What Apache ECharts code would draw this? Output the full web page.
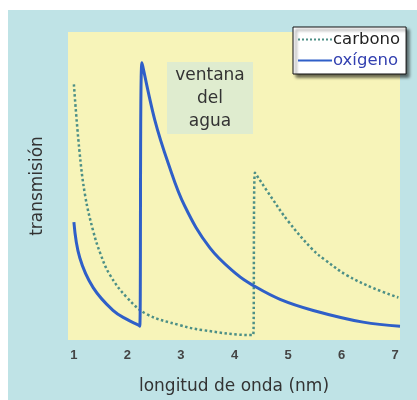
<!DOCTYPE html>
<html><head><meta charset="utf-8">
<script src="https://cdn.jsdelivr.net/npm/echarts@6/dist/echarts.min.js"></script>
<style>html,body{margin:0;padding:0;background:#fff}#c{width:417px;height:400px}</style>
</head><body><div id="c"></div>
<script>
const xTicks = [1, 2, 3, 4, 5, 6, 7];
const carbonoX = [1.0, 1.1, 1.21, 1.36, 1.5, 1.67, 1.99, 2.36, 2.98, 3.41, 4.33, 4.35, 4.38, 4.70, 5.0, 5.45, 5.69, 6.10, 6.6, 7.06];
const carbonoY = [83.0, 62.0, 46.9, 35.4, 27.8, 21.2, 13.8, 8.4, 4.8, 3.2, 1.6, 1.6, 54.3, 46.0, 38.6, 29.5, 26.0, 21.0, 16.8, 13.8];
const oxigenoX = [1.0, 1.11, 1.36, 1.73, 2.0, 2.21, 2.23, 2.27, 2.51, 2.76, 3.07, 3.54, 4.05, 4.35, 4.85, 5.47, 6.40, 7.09];
const oxigenoY = [38.3, 26.7, 17.0, 9.6, 6.6, 4.8, 4.5, 90.0, 71.5, 57.5, 43.5, 29.9, 21.2, 17.7, 13.2, 9.6, 5.8, 4.5];
const seriesNames = ['carbono', 'oxígeno'];
const annotation = 'ventana\ndel\nagua';

const zip = (xs, ys) => xs.map((x, i) => [x, ys[i]]);
const font = 'DejaVu Sans';
const chart = echarts.init(document.getElementById('c'));
chart.setOption({
  backgroundColor: '#ffffff',
  animation: false,
  graphic: [
    { type: 'rect', z: -10, shape: { x: 8, y: 10, width: 409, height: 390 }, style: { fill: '#bfe3e6' } },
    { type: 'rect', z: 9, shape: { x: 167, y: 62, width: 86, height: 72 }, style: { fill: '#dfeccf' } },
    { type: 'text', z: 10, x: 210, y: 64,
      style: { text: annotation, font: '17px "DejaVu Sans"', fill: '#333', align: 'center', verticalAlign: 'top',
        lineHeight: 23 } }
  ],
  grid: { left: 68, top: 32, right: 17, bottom: 57, show: true, backgroundColor: '#f7f4b9', borderWidth: 0 },
  legend: {
    left: 293, top: 27, orient: 'vertical', itemWidth: 34, itemHeight: 10, itemGap: 4,
    padding: [4, 6, 5, 4],
    backgroundColor: '#ffffff', borderColor: '#111', borderWidth: 1,
    shadowColor: 'rgba(0,0,0,0.6)', shadowBlur: 3, shadowOffsetX: 3, shadowOffsetY: 3,
    itemStyle: { opacity: 0 },
    textStyle: { fontFamily: font, fontSize: 16.5, padding: [0, 0, 0, -4] },
    data: [
      { name: seriesNames[0], textStyle: { color: '#222' } },
      { name: seriesNames[1], textStyle: { color: '#3340b0' } }
    ]
  },
  xAxis: {
    type: 'value', min: 0.89, max: 7.09,
    name: 'longitud de onda (nm)', nameLocation: 'middle', nameGap: 38,
    nameTextStyle: { fontFamily: font, fontSize: 17, color: '#333' },
    axisLine: { show: false },
    axisTick: { show: false },
    splitLine: { show: false },
    axisLabel: { customValues: xTicks, fontFamily: 'Liberation Sans', fontWeight: 'bold', fontSize: 13, color: '#444', margin: 9 }
  },
  yAxis: {
    type: 'value', min: 0, max: 100,
    name: 'transmisión', nameLocation: 'middle', nameGap: 22,
    nameTextStyle: { fontFamily: font, fontSize: 17, color: '#333' },
    axisLine: { show: false }, axisTick: { show: false }, axisLabel: { show: false }, splitLine: { show: false }
  },
  series: [
    { name: seriesNames[0], type: 'line', data: zip(carbonoX, carbonoY), symbol: 'none', smooth: 0.4,
      lineStyle: { color: '#4d8f86', width: 2.5, type: 'dotted' }, itemStyle: { color: '#4d8f86' } },
    { name: seriesNames[1], type: 'line', data: zip(oxigenoX, oxigenoY), symbol: 'none', smooth: 0.4,
      lineStyle: { color: '#2f5fc8', width: 3 }, itemStyle: { color: '#2f5fc8' } }
  ]
});
</script></body></html>
